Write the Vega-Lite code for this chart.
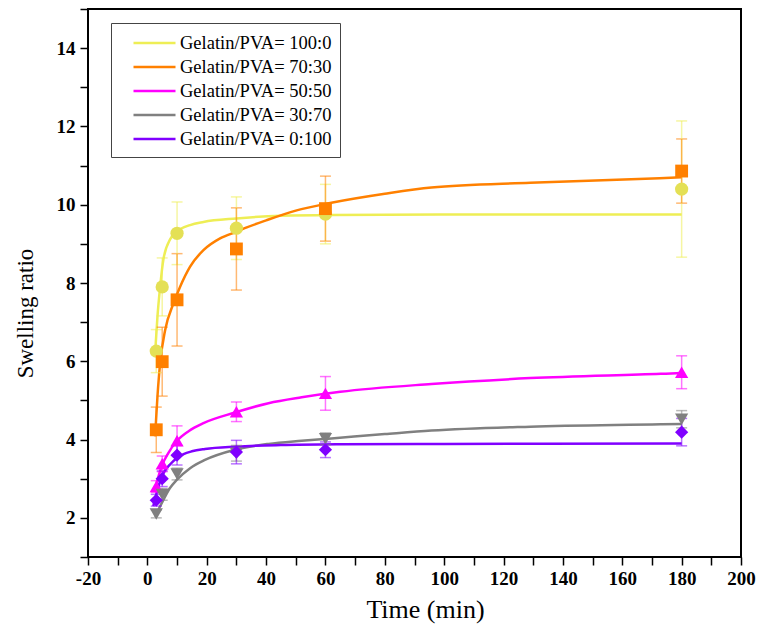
{
  "$schema": "https://vega.github.io/schema/vega-lite/v6.json",
  "width": 653,
  "height": 548,
  "autosize": {"type": "none"},
  "padding": {"left": 88, "top": 9, "right": 19, "bottom": 71},
  "background": "white",
  "view": {"stroke": "black", "strokeWidth": 2},
  "config": {
    "font": "Liberation Serif",
    "axis": {
      "grid": false,
      "domain": false,
      "labelFont": "Liberation Serif",
      "labelFontWeight": "bold",
      "labelFontSize": 19,
      "labelColor": "black",
      "labelFlush": false,
      "labelOverlap": false,
      "titleFont": "Liberation Serif",
      "titleFontWeight": "normal",
      "titleColor": "black",
      "tickColor": "black",
      "tickWidth": 1.5,
      "tickSize": 8
    },
    "legend": {
      "orient": "none",
      "legendX": 23,
      "legendY": 14,
      "strokeColor": "#444444",
      "fillColor": "white",
      "padding": 8,
      "symbolType": "M-2,0H2",
      "symbolSize": 441,
      "symbolOffset": 23.5,
      "labelOffset": 13.5,
      "symbolStrokeWidth": 2.5,
      "rowPadding": 2,
      "labelFont": "Liberation Serif",
      "labelFontSize": 18.5,
      "labelFontWeight": "normal",
      "labelColor": "black"
    }
  },
  "datasets": {
    "pts": [
      {"series": "Gelatin/PVA= 100:0", "t": 3, "v": 6.26, "e": 0.55},
      {"series": "Gelatin/PVA= 100:0", "t": 5, "v": 7.9, "e": 0.74},
      {"series": "Gelatin/PVA= 100:0", "t": 10, "v": 9.27, "e": 0.8},
      {"series": "Gelatin/PVA= 100:0", "t": 30, "v": 9.4, "e": 0.8},
      {"series": "Gelatin/PVA= 100:0", "t": 60, "v": 9.76, "e": 0.76},
      {"series": "Gelatin/PVA= 100:0", "t": 180, "v": 10.4, "e": 1.74},
      {"series": "Gelatin/PVA= 70:30", "t": 3, "v": 4.25, "e": 0.58},
      {"series": "Gelatin/PVA= 70:30", "t": 5, "v": 5.99, "e": 0.88},
      {"series": "Gelatin/PVA= 70:30", "t": 10, "v": 7.57, "e": 1.18},
      {"series": "Gelatin/PVA= 70:30", "t": 30, "v": 8.87, "e": 1.05},
      {"series": "Gelatin/PVA= 70:30", "t": 60, "v": 9.9, "e": 0.83},
      {"series": "Gelatin/PVA= 70:30", "t": 180, "v": 10.86, "e": 0.82},
      {"series": "Gelatin/PVA= 50:50", "t": 3, "v": 2.8, "e": 0.15},
      {"series": "Gelatin/PVA= 50:50", "t": 5, "v": 3.38, "e": 0.2},
      {"series": "Gelatin/PVA= 50:50", "t": 10, "v": 3.97, "e": 0.38},
      {"series": "Gelatin/PVA= 50:50", "t": 30, "v": 4.71, "e": 0.25},
      {"series": "Gelatin/PVA= 50:50", "t": 60, "v": 5.18, "e": 0.43},
      {"series": "Gelatin/PVA= 50:50", "t": 180, "v": 5.72, "e": 0.42},
      {"series": "Gelatin/PVA= 30:70", "t": 3, "v": 2.1, "e": 0.1},
      {"series": "Gelatin/PVA= 30:70", "t": 5, "v": 2.6, "e": 0.15},
      {"series": "Gelatin/PVA= 30:70", "t": 10, "v": 3.12, "e": 0.15},
      {"series": "Gelatin/PVA= 30:70", "t": 30, "v": 3.65, "e": 0.2},
      {"series": "Gelatin/PVA= 30:70", "t": 60, "v": 4.02, "e": 0.15},
      {"series": "Gelatin/PVA= 30:70", "t": 180, "v": 4.52, "e": 0.22},
      {"series": "Gelatin/PVA= 0:100", "t": 3, "v": 2.45, "e": 0.15},
      {"series": "Gelatin/PVA= 0:100", "t": 5, "v": 3.0, "e": 0.2},
      {"series": "Gelatin/PVA= 0:100", "t": 10, "v": 3.6, "e": 0.25},
      {"series": "Gelatin/PVA= 0:100", "t": 30, "v": 3.68, "e": 0.3},
      {"series": "Gelatin/PVA= 0:100", "t": 60, "v": 3.74, "e": 0.2},
      {"series": "Gelatin/PVA= 0:100", "t": 180, "v": 4.19, "e": 0.35}
    ],
    "fit": [
      {"series": "Gelatin/PVA= 100:0", "t": 2.6, "v": 6.2},
      {"series": "Gelatin/PVA= 100:0", "t": 3.4, "v": 7.14},
      {"series": "Gelatin/PVA= 100:0", "t": 4.3, "v": 7.9},
      {"series": "Gelatin/PVA= 100:0", "t": 5.4, "v": 8.6},
      {"series": "Gelatin/PVA= 100:0", "t": 7.7, "v": 9.12},
      {"series": "Gelatin/PVA= 100:0", "t": 9.9, "v": 9.31},
      {"series": "Gelatin/PVA= 100:0", "t": 14.4, "v": 9.48},
      {"series": "Gelatin/PVA= 100:0", "t": 18.9, "v": 9.56},
      {"series": "Gelatin/PVA= 100:0", "t": 30, "v": 9.65},
      {"series": "Gelatin/PVA= 100:0", "t": 45, "v": 9.72},
      {"series": "Gelatin/PVA= 100:0", "t": 62, "v": 9.74},
      {"series": "Gelatin/PVA= 100:0", "t": 100, "v": 9.75},
      {"series": "Gelatin/PVA= 100:0", "t": 180, "v": 9.75},
      {"series": "Gelatin/PVA= 70:30", "t": 2.6, "v": 4.08},
      {"series": "Gelatin/PVA= 70:30", "t": 3.4, "v": 5.1},
      {"series": "Gelatin/PVA= 70:30", "t": 4.3, "v": 5.95},
      {"series": "Gelatin/PVA= 70:30", "t": 6, "v": 6.8},
      {"series": "Gelatin/PVA= 70:30", "t": 8.8, "v": 7.48},
      {"series": "Gelatin/PVA= 70:30", "t": 11, "v": 7.9},
      {"series": "Gelatin/PVA= 70:30", "t": 14.4, "v": 8.42},
      {"series": "Gelatin/PVA= 70:30", "t": 18.9, "v": 8.84},
      {"series": "Gelatin/PVA= 70:30", "t": 24.5, "v": 9.14},
      {"series": "Gelatin/PVA= 70:30", "t": 30, "v": 9.31},
      {"series": "Gelatin/PVA= 70:30", "t": 33.5, "v": 9.42},
      {"series": "Gelatin/PVA= 70:30", "t": 40, "v": 9.6},
      {"series": "Gelatin/PVA= 70:30", "t": 50, "v": 9.85},
      {"series": "Gelatin/PVA= 70:30", "t": 62, "v": 10.05},
      {"series": "Gelatin/PVA= 70:30", "t": 80, "v": 10.28},
      {"series": "Gelatin/PVA= 70:30", "t": 95.7, "v": 10.44},
      {"series": "Gelatin/PVA= 70:30", "t": 129, "v": 10.56},
      {"series": "Gelatin/PVA= 70:30", "t": 163, "v": 10.65},
      {"series": "Gelatin/PVA= 70:30", "t": 180, "v": 10.7},
      {"series": "Gelatin/PVA= 50:50", "t": 2.5, "v": 2.7},
      {"series": "Gelatin/PVA= 50:50", "t": 3, "v": 2.85},
      {"series": "Gelatin/PVA= 50:50", "t": 5, "v": 3.35},
      {"series": "Gelatin/PVA= 50:50", "t": 7, "v": 3.65},
      {"series": "Gelatin/PVA= 50:50", "t": 10, "v": 3.97},
      {"series": "Gelatin/PVA= 50:50", "t": 14, "v": 4.22},
      {"series": "Gelatin/PVA= 50:50", "t": 18.9, "v": 4.42},
      {"series": "Gelatin/PVA= 50:50", "t": 29.5, "v": 4.69},
      {"series": "Gelatin/PVA= 50:50", "t": 40.8, "v": 4.93},
      {"series": "Gelatin/PVA= 50:50", "t": 52, "v": 5.08},
      {"series": "Gelatin/PVA= 50:50", "t": 65, "v": 5.22},
      {"series": "Gelatin/PVA= 50:50", "t": 95.7, "v": 5.42},
      {"series": "Gelatin/PVA= 50:50", "t": 129, "v": 5.57},
      {"series": "Gelatin/PVA= 50:50", "t": 173, "v": 5.68},
      {"series": "Gelatin/PVA= 50:50", "t": 180, "v": 5.7},
      {"series": "Gelatin/PVA= 30:70", "t": 2.6, "v": 2.03},
      {"series": "Gelatin/PVA= 30:70", "t": 5.4, "v": 2.46},
      {"series": "Gelatin/PVA= 30:70", "t": 7.5, "v": 2.75},
      {"series": "Gelatin/PVA= 30:70", "t": 9.9, "v": 2.97},
      {"series": "Gelatin/PVA= 30:70", "t": 14.4, "v": 3.27},
      {"series": "Gelatin/PVA= 30:70", "t": 19.4, "v": 3.48},
      {"series": "Gelatin/PVA= 30:70", "t": 29.5, "v": 3.74},
      {"series": "Gelatin/PVA= 30:70", "t": 40.8, "v": 3.89},
      {"series": "Gelatin/PVA= 30:70", "t": 52, "v": 3.97},
      {"series": "Gelatin/PVA= 30:70", "t": 62, "v": 4.03},
      {"series": "Gelatin/PVA= 30:70", "t": 80, "v": 4.14},
      {"series": "Gelatin/PVA= 30:70", "t": 95.7, "v": 4.23},
      {"series": "Gelatin/PVA= 30:70", "t": 129, "v": 4.33},
      {"series": "Gelatin/PVA= 30:70", "t": 173, "v": 4.39},
      {"series": "Gelatin/PVA= 30:70", "t": 180, "v": 4.4},
      {"series": "Gelatin/PVA= 0:100", "t": 2, "v": 2.3},
      {"series": "Gelatin/PVA= 0:100", "t": 3, "v": 2.6},
      {"series": "Gelatin/PVA= 0:100", "t": 4.3, "v": 2.93},
      {"series": "Gelatin/PVA= 0:100", "t": 5.5, "v": 3.15},
      {"series": "Gelatin/PVA= 0:100", "t": 7.7, "v": 3.37},
      {"series": "Gelatin/PVA= 0:100", "t": 10, "v": 3.53},
      {"series": "Gelatin/PVA= 0:100", "t": 12.2, "v": 3.63},
      {"series": "Gelatin/PVA= 0:100", "t": 15, "v": 3.7},
      {"series": "Gelatin/PVA= 0:100", "t": 19.4, "v": 3.76},
      {"series": "Gelatin/PVA= 0:100", "t": 30, "v": 3.82},
      {"series": "Gelatin/PVA= 0:100", "t": 45, "v": 3.86},
      {"series": "Gelatin/PVA= 0:100", "t": 65, "v": 3.88},
      {"series": "Gelatin/PVA= 0:100", "t": 100, "v": 3.89},
      {"series": "Gelatin/PVA= 0:100", "t": 180, "v": 3.9}
    ]
  },
  "encoding": {
    "x": {
      "field": "t", "type": "quantitative",
      "scale": {"domain": [-20, 200], "nice": false, "zero": false},
      "axis": {
        "title": "Time (min)",
        "titleFontWeight": "normal",
        "titleFontSize": 26,
        "titleX": 337,
        "values": [-20, -10, 0, 10, 20, 30, 40, 50, 60, 70, 80, 90, 100, 110, 120, 130, 140, 150, 160, 170, 180, 190, 200],
        "labelExpr": "datum.value % 20 === 0 ? '' + datum.value : ''",
        "labelPadding": 4,
        "titlePadding": 8,
        "encode": {"ticks": {"y2": {"value": {"expr": "datum.value % 20 === 0 ? -8 : -4"}}}}
      }
    },
    "y": {
      "field": "v", "type": "quantitative",
      "scale": {"domain": [1, 15], "nice": false, "zero": false},
      "axis": {
        "title": "Swelling ratio",
        "titleFontWeight": "normal",
        "titleFontSize": 23,
        "titleY": 304,
        "values": [1, 2, 3, 4, 5, 6, 7, 8, 9, 10, 11, 12, 13, 14, 15],
        "labelExpr": "datum.value % 2 === 0 ? '' + datum.value : ''",
        "labelPadding": 5,
        "titlePadding": 19,
        "encode": {"ticks": {"x2": {"value": {"expr": "datum.value % 2 === 0 ? 8 : 4"}}}}
      }
    }
  },
  "layer": [
    {
      "data": {"name": "fit"},
      "mark": {"type": "line", "strokeWidth": 2.5, "interpolate": "monotone"},
      "encoding": {
        "color": {
          "field": "series", "type": "nominal",
          "scale": {
            "domain": ["Gelatin/PVA= 100:0", "Gelatin/PVA= 70:30", "Gelatin/PVA= 50:50", "Gelatin/PVA= 30:70", "Gelatin/PVA= 0:100"],
            "range": ["#eeee55", "#ff8000", "#ff00ff", "#808080", "#8000ff"]
          },
          "legend": {"title": null, "symbolType": "M-2,0H2"}
        }
      }
    },
    {
      "data": {"name": "pts"},
      "mark": {"type": "errorbar", "ticks": {"size": 11, "thickness": 1.5, "opacity": 0.55}, "rule": {"strokeWidth": 1.5, "opacity": 0.55}},
      "encoding": {
        "yError": {"field": "e"},
        "color": {"field": "series", "type": "nominal", "legend": null}
      }
    },
    {
      "data": {"name": "pts"},
      "transform": [{"filter": "datum.series === 'Gelatin/PVA= 100:0'"}],
      "mark": {"type": "point", "filled": true, "opacity": 1, "size": 175, "shape": "circle", "color": "#e4e055"}
    },
    {
      "data": {"name": "pts"},
      "transform": [{"filter": "datum.series === 'Gelatin/PVA= 70:30'"}],
      "mark": {"type": "point", "filled": true, "opacity": 1, "size": 165, "shape": "square", "color": "#ff8000"}
    },
    {
      "data": {"name": "pts"},
      "transform": [{"filter": "datum.series === 'Gelatin/PVA= 50:50'"}],
      "mark": {"type": "point", "filled": true, "opacity": 1, "size": 175, "shape": "triangle-up", "color": "#ff00ff"}
    },
    {
      "data": {"name": "pts"},
      "transform": [{"filter": "datum.series === 'Gelatin/PVA= 30:70'"}],
      "mark": {"type": "point", "filled": true, "opacity": 1, "size": 175, "shape": "triangle-down", "color": "#808080"}
    },
    {
      "data": {"name": "pts"},
      "transform": [{"filter": "datum.series === 'Gelatin/PVA= 0:100'"}],
      "mark": {"type": "point", "filled": true, "opacity": 1, "size": 175, "shape": "diamond", "color": "#8000ff"}
    }
  ]
}
